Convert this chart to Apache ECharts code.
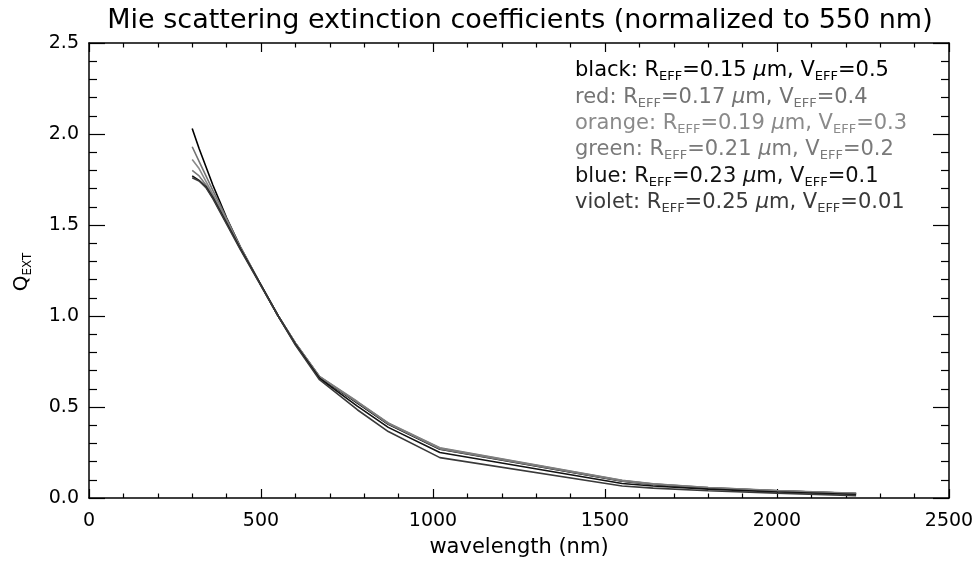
<!DOCTYPE html>
<html><head><meta charset="utf-8">
<script src="https://cdn.jsdelivr.net/npm/echarts@6/dist/echarts.min.js"></script>
<style>html,body{margin:0;padding:0;background:#fff}#c{width:979px;height:563px}</style>
</head><body><div id="c"></div>
<script>
// Wavelengths (nm)
const wavelengths = [300, 320, 340, 360, 380, 400, 440, 500, 550, 600, 670, 780, 870, 1020, 1550, 1640, 1800, 2000, 2230];
// Normalized extinction (Q_EXT / Q_EXT(550))
const qBlack  = [2.03, 1.92, 1.82, 1.72, 1.63, 1.54, 1.38, 1.17, 1.00, 0.85, 0.665, 0.522, 0.405, 0.268, 0.092, 0.074, 0.055, 0.039, 0.024];
const qRed    = [1.93, 1.85, 1.77, 1.69, 1.615, 1.535, 1.38, 1.17, 1.00, 0.852, 0.668, 0.530, 0.412, 0.276, 0.097, 0.078, 0.058, 0.041, 0.026];
const qOrange = [1.86, 1.81, 1.74, 1.67, 1.60, 1.525, 1.375, 1.17, 1.00, 0.851, 0.667, 0.528, 0.410, 0.273, 0.096, 0.077, 0.057, 0.040, 0.025];
const qGreen  = [1.80, 1.77, 1.72, 1.66, 1.59, 1.52, 1.37, 1.17, 1.00, 0.850, 0.666, 0.525, 0.408, 0.270, 0.094, 0.076, 0.056, 0.039, 0.024];
const qBlue   = [1.77, 1.745, 1.71, 1.65, 1.58, 1.51, 1.37, 1.17, 1.00, 0.845, 0.658, 0.505, 0.388, 0.250, 0.080, 0.066, 0.049, 0.033, 0.019];
const qViolet = [1.76, 1.742, 1.705, 1.645, 1.575, 1.505, 1.365, 1.165, 1.00, 0.840, 0.650, 0.485, 0.365, 0.222, 0.066, 0.054, 0.040, 0.027, 0.013];

const seriesNames = ['black', 'red', 'orange', 'green', 'blue', 'violet'];
const seriesData = [qBlack, qRed, qOrange, qGreen, qBlue, qViolet];
const rEff = ['0.15', '0.17', '0.19', '0.21', '0.23', '0.25'];
const vEff = ['0.5', '0.4', '0.3', '0.2', '0.1', '0.01'];
const colors = ['#000000', '#737373', '#8a8a8a', '#7a7a7a', '#111111', '#3a3a3a'];

const titleText = 'Mie scattering extinction coefficients (normalized to 550 nm)';
const xName = 'wavelength (nm)';

const FONT = 'DejaVu Sans';
const chart = echarts.init(document.getElementById('c'), null, {renderer: 'canvas'});

const axCommon = {
  type: 'value',
  axisLine: {show: true, onZero: false, lineStyle: {color: '#000', width: 1.5}},
  splitLine: {show: false},
  minorSplitLine: {show: false}
};

const xBase = Object.assign({}, axCommon, {
  min: 0, max: 2500, interval: 500,
  axisTick: {show: true, inside: true, length: 9, lineStyle: {color: '#000', width: 1.2}},
  minorTick: {show: true, splitNumber: 5, length: 4.5, lineStyle: {color: '#000', width: 1.2}}
});
const yBase = Object.assign({}, axCommon, {
  min: 0, max: 2.5, interval: 0.5,
  axisTick: {show: true, inside: true, length: 16, lineStyle: {color: '#000', width: 1.2}},
  minorTick: {show: true, splitNumber: 5, length: 8, lineStyle: {color: '#000', width: 1.2}}
});

const series = seriesNames.map((n, i) => ({
  name: n,
  type: 'line',
  xAxisIndex: 0, yAxisIndex: 0,
  showSymbol: false,
  symbol: 'none',
  smooth: false,
  lineStyle: {color: colors[i], width: 1.6},
  data: wavelengths.map((w, k) => [w, seriesData[i][k]]),
  z: 2 + i
}));

const legendGraphics = seriesNames.map((n, i) => ({
  type: 'text',
  x: 575,
  y: 71 + 26.3 * i,
  style: {
    text: '{a|' + n + ': R}{s|EFF}{a|=' + rEff[i] + ' }{m|μ}{a|m, V}{s|EFF}{a|=' + vEff[i] + '}',
    align: 'left', verticalAlign: 'middle',
    rich: {
      a: {fontFamily: FONT, fontSize: 21, lineHeight: 25, fill: colors[i]},
      m: {fontFamily: FONT, fontSize: 21, lineHeight: 25, fill: colors[i], fontStyle: 'italic'},
      s: {fontFamily: FONT, fontSize: 13, lineHeight: 14, verticalAlign: 'bottom', fill: colors[i]}
    }
  }
}));

chart.setOption({
  animation: false,
  backgroundColor: '#fff',
  grid: {left: 89, right: 30, top: 43, bottom: 65, containLabel: false},
  xAxis: [
    Object.assign({}, xBase, {position: 'bottom',
      axisLabel: {show: true, margin: 14, fontFamily: FONT, fontSize: 19, color: '#000',
        formatter: v => String(v)}}),
    Object.assign({}, xBase, {position: 'top', axisLabel: {show: false}})
  ],
  yAxis: [
    Object.assign({}, yBase, {position: 'left',
      axisLabel: {show: true, margin: 10, fontFamily: FONT, fontSize: 19, color: '#000',
        formatter: v => v.toFixed(1)}}),
    Object.assign({}, yBase, {position: 'right', axisLabel: {show: false}})
  ],
  series: series,
  graphic: [
    {type: 'text', x: 520, y: 21,
      style: {text: titleText, fontFamily: FONT, fontSize: 27, fill: '#000', align: 'center', verticalAlign: 'middle'}},
    {type: 'text', x: 519, y: 548,
      style: {text: xName, fontFamily: FONT, fontSize: 21, fill: '#000', align: 'center', verticalAlign: 'middle'}},
    {type: 'text', x: 22, y: 272, rotation: Math.PI / 2,
      style: {
        text: '{a|Q}{s|EXT}', align: 'center', verticalAlign: 'middle',
        rich: {
          a: {fontFamily: FONT, fontSize: 20, lineHeight: 24, fill: '#000'},
          s: {fontFamily: FONT, fontSize: 12, lineHeight: 13, verticalAlign: 'bottom', fill: '#000'}
        }
      }}
  ].concat(legendGraphics)
});
</script>
</body></html>
